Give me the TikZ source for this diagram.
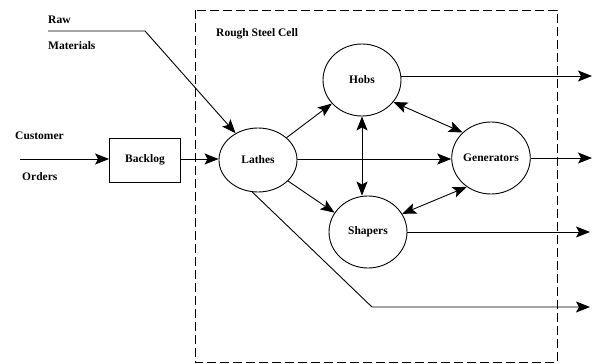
\documentclass[tikz,border=0pt]{standalone}
\usepackage{fontspec}
\setmainfont{Liberation Serif}
\usetikzlibrary{arrows.meta,shapes.geometric}
\begin{document}
\begin{tikzpicture}[x=1pt,y=-1pt,
  lbl/.style={font=\fontsize{11.5}{12}\selectfont\bfseries, inner sep=0pt},
  proc/.style={draw, ellipse, line width=0.9pt, minimum width=78pt, minimum height=72pt, inner sep=0pt, font=\fontsize{11.5}{12}\selectfont\bfseries},
  conn/.style={line width=0.9pt, -{Stealth[length=14pt,width=11pt,inset=3pt]}},
  bconn/.style={line width=0.9pt, {Stealth[length=14pt,width=11pt,inset=3pt]}-{Stealth[length=14pt,width=11pt,inset=3pt]}}
]
\useasboundingbox (0,0) rectangle (598,364);
% cell boundary
\draw[line width=0.9pt, dash pattern=on 9pt off 4pt] (195,10) rectangle (557,362);
\node[lbl, anchor=west] (cell) at (216,34) {Rough Steel Cell};
% nodes
\node[draw, line width=0.9pt, minimum width=71pt, minimum height=44pt, inner sep=0pt, font=\fontsize{11.5}{12}\selectfont\bfseries] (backlog) at (145,160) {Backlog};
\node[proc, minimum height=64pt] (lathes) at (258,160) {Lathes};
\node[proc] (hobs) at (362,80) {Hobs};
\node[proc] (gen) at (491,158) {Generators};
\node[proc] (shapers) at (368,232) {Shapers};
% external labels
\node[lbl, anchor=west] (raw) at (48,20) {Raw};
\node[lbl, anchor=west] (mat) at (48,46) {Materials};
\node[lbl, anchor=west] (cust) at (15,136) {Customer};
\node[lbl, anchor=west] (ord) at (22,177) {Orders};
% coordinates
\coordinate (custin) at (20,159);
\coordinate (rawin) at (48,31);
\coordinate (rawbend) at (145,31);
\coordinate (o1) at (592,76);
\coordinate (o2) at (592,158);
\coordinate (o3) at (590,232);
\coordinate (lbend) at (372,307);
\coordinate (o4) at (590,307);
% connectors
\draw[conn] (custin) -- (backlog.west |- custin);
\draw[conn] (backlog.east |- custin) -- (lathes.west |- custin);
\draw[conn] (rawin) -- (rawbend) -- (lathes.130);
\draw[conn] (lathes.38) -- (hobs.218);
\draw[conn] (lathes.east |- custin) -- (gen.west |- custin);
\draw[conn] (lathes.-35) -- (shapers.150);
\draw[bconn] (hobs.south) -- (hobs.south |- shapers.north);
\draw[bconn] (hobs.-35) -- (gen.138);
\draw[bconn] (shapers.28) -- (gen.-130);
\draw[conn] (hobs.east |- o1) -- (o1);
\draw[conn] (gen.east) -- (o2);
\draw[conn] (shapers.east) -- (o3);
\draw[conn] (lathes.-100) -- (lbend) -- (o4);
\end{tikzpicture}
\end{document}
